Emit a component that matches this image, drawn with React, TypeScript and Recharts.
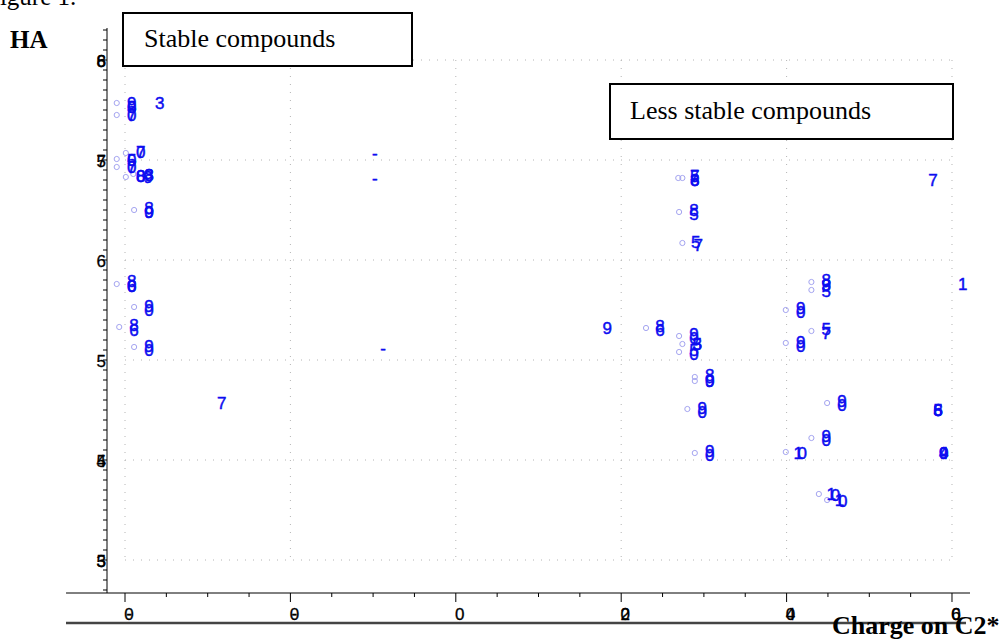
import React from 'react';
import { ScatterChart, Scatter, XAxis, YAxis, ReferenceLine } from 'recharts';

// ---- axes ----
const xDomain: [number, number] = [-0.042177, 0.062177];
const yDomain: [number, number] = [2.67, 8.32];

const xTickValues = [
  -0.04, -0.035, -0.03, -0.025, -0.02, -0.015, -0.01, -0.005, 0, 0.005, 0.01,
  0.015, 0.02, 0.025, 0.03, 0.035, 0.04, 0.045, 0.05, 0.055, 0.06,
];
const xMajorValues = [-0.04, -0.02, 0, 0.02, 0.04, 0.06];
const xMajorGlyphs = [['0', '-'], ['0', '-'], ['0'], ['2', '0'], ['4', '0'], ['6', '0']];

const yTickValues = Array.from({ length: 57 }, (_, i) => (27 + i) / 10);
const yMajorValues = [8, 7, 6, 5, 4, 3];
const yMajorGlyphs = [['8', '6'], ['7', '5'], ['6'], ['5'], ['4', '5'], ['3', '5']];

// ---- data: circles (Charge on C2*, HA) ----
const stablePoints: [number, number][] = [
  [-0.041, 7.57], [-0.041, 7.45], [-0.0399, 7.07], [-0.041, 7.01], [-0.041, 6.93],
  [-0.0399, 6.83], [-0.039, 6.86], [-0.0389, 6.5], [-0.041, 5.76], [-0.0389, 5.53],
  [-0.0407, 5.33], [-0.0389, 5.13],
];
const middlePoints: [number, number][] = [
  [0.0269, 6.82], [0.0274, 6.82], [0.027, 6.48], [0.0274, 6.17], [0.023, 5.32],
  [0.027, 5.24], [0.0274, 5.16], [0.027, 5.08], [0.0289, 4.83], [0.0289, 4.79],
  [0.028, 4.51], [0.0289, 4.07],
];
const rightPoints: [number, number][] = [
  [0.043, 5.78], [0.043, 5.7], [0.0399, 5.5], [0.043, 5.29], [0.0399, 5.17],
  [0.0449, 4.57], [0.043, 4.22], [0.0399, 4.08], [0.0439, 3.66], [0.0449, 3.6],
];

// ---- data: point labels (x, y, overlapping glyphs) ----
const stableLabels: [number, number, string][] = [
  [-0.0392, 7.57, '9'], [-0.0392, 7.53, '05'], [-0.0392, 7.45, '07'], [-0.0358, 7.57, '3'],
  [-0.0381, 7.08, '70'], [-0.0392, 7.0, '50'], [-0.0392, 6.93, '07'], [-0.0381, 6.84, '08'],
  [-0.0371, 6.85, '83'], [-0.0372, 6.83, '9'], [-0.0371, 6.52, '8'], [-0.0371, 6.48, '90'],
  [-0.0392, 5.79, '8'], [-0.0392, 5.74, '60'], [-0.0371, 5.54, '9'], [-0.0371, 5.5, '0'],
  [-0.0389, 5.35, '8'], [-0.0389, 5.3, '6'], [-0.0371, 5.14, '9'], [-0.0371, 5.1, '0'],
  [-0.0283, 4.57, '7'], [-0.0098, 7.07, '-'], [-0.0098, 6.82, '-'], [-0.0088, 5.12, '-'],
];
const middleLabels: [number, number, string][] = [
  [0.0289, 6.84, '57'], [0.0289, 6.8, '68'], [0.0288, 6.5, '8'], [0.0288, 6.46, '5'],
  [0.029, 6.18, '5'], [0.0293, 6.15, '7'], [0.0183, 5.32, '9'], [0.0247, 5.34, '8'],
  [0.0247, 5.3, '6'], [0.0288, 5.26, '9'], [0.0288, 5.22, '0'], [0.0292, 5.16, '53'],
  [0.0288, 5.1, '5'], [0.0288, 5.06, '0'], [0.0307, 4.85, '8'], [0.0307, 4.79, '90'],
  [0.0298, 4.52, '9'], [0.0298, 4.48, '0'], [0.0307, 4.09, '9'], [0.0307, 4.05, '0'],
  [0.0577, 6.8, '7'],
];
const rightLabels: [number, number, string][] = [
  [0.0448, 5.8, '8'], [0.0448, 5.75, '93'], [0.0448, 5.69, '5'], [0.0417, 5.52, '9'],
  [0.0417, 5.48, '0'], [0.0448, 5.31, '5'], [0.0448, 5.27, '7'], [0.0417, 5.18, '9'],
  [0.0417, 5.14, '0'], [0.0467, 4.59, '9'], [0.0467, 4.55, '0'], [0.0448, 4.24, '9'],
  [0.0448, 4.2, '0'], [0.0414, 4.07, '1'], [0.0419, 4.07, '0'], [0.0613, 5.76, '1'],
  [0.0583, 4.5, '865'], [0.059, 4.07, '409'], [0.0454, 3.66, '1'], [0.0459, 3.65, '0'],
  [0.0464, 3.6, '1'], [0.0468, 3.59, '0'],
];

const circleData = [...stablePoints, ...middlePoints, ...rightPoints].map(([x, y]) => ({ x, y }));
const labelData = [...stableLabels, ...middleLabels, ...rightLabels].map(([x, y, t]) => ({ x, y, t }));

const SANS = "'Liberation Sans', Arial, sans-serif";
const SERIF = "'Liberation Serif', 'Times New Roman', serif";
const near = (a: number, b: number) => Math.abs(a - b) < 1e-6;

const CircleShape = (p: any) => (
  <circle cx={p.cx} cy={p.cy} r={2.6} fill="none" stroke="#a4a4f0" strokeWidth={1} />
);

const LabelShape = (p: any) => {
  const t: string = p.payload.t;
  return (
    <g>
      {t.split('').map((ch, i) => (
        <text
          key={i}
          x={p.cx}
          y={p.cy + 6}
          textAnchor="middle"
          fontSize={17}
          fontFamily={SANS}
          fill="#0d0df0"
          stroke="#0d0df0"
          strokeWidth={0.45}
        >
          {ch}
        </text>
      ))}
    </g>
  );
};

const YTick = (props: any) => {
  const { x, y, payload } = props;
  const idx = yMajorValues.findIndex((m) => near(m, payload.value));
  return (
    <g>
      <line x1={x - 4} x2={x} y1={y} y2={y} stroke="#000" strokeWidth={1} />
      {idx >= 0 &&
        yMajorGlyphs[idx].map((g, i) => (
          <text key={i} x={x - 1} y={y + 7} textAnchor="end" fontSize={17} fontFamily={SANS} fill="#000" stroke="#000" strokeWidth={0.3}>
            {g}
          </text>
        ))}
    </g>
  );
};

const XTick = (props: any) => {
  const { x, y, payload } = props;
  const idx = xMajorValues.findIndex((m) => near(m, payload.value));
  const major = idx >= 0;
  return (
    <g>
      <line x1={x} x2={x} y1={y} y2={y + (major ? 9 : 4)} stroke="#000" strokeWidth={1} />
      {major &&
        xMajorGlyphs[idx].map((g, i) => (
          <text key={i} x={x + 4} y={y + 27 - (g === '-' ? 1 : 0)} textAnchor="middle" fontSize={17} fontFamily={SANS} fill="#000" stroke="#000" strokeWidth={0.3}>
            {g}
          </text>
        ))}
    </g>
  );
};

const gridStyle = { stroke: '#b4b4b4', strokeWidth: 1, strokeDasharray: '1 7' };

export default function App() {
  return (
    <div style={{ position: 'absolute', left: 0, top: 0, width: 1006, height: 641, background: '#fff', overflow: 'hidden' }}>
      <ScatterChart width={1006} height={641} margin={{ top: 28, right: 36, bottom: 18, left: 47 }}>
        <XAxis
          type="number"
          dataKey="x"
          domain={xDomain}
          allowDataOverflow
          ticks={xTickValues}
          interval={0}
          tick={<XTick />}
          tickLine={false}
          tickSize={0}
          tickMargin={0}
          axisLine={false}
          height={30}
        />
        <YAxis
          type="number"
          dataKey="y"
          domain={yDomain}
          allowDataOverflow
          ticks={yTickValues}
          interval={0}
          tick={<YTick />}
          tickLine={false}
          tickSize={0}
          tickMargin={0}
          axisLine={{ stroke: '#000', strokeWidth: 1 }}
          width={60}
        />
        {xMajorValues.map((v) => (
          <ReferenceLine key={'gx' + v} segment={[{ x: v, y: 8 }, { x: v, y: 3 }]} {...gridStyle} ifOverflow="visible" />
        ))}
        {yMajorValues.map((v) => (
          <ReferenceLine key={'gy' + v} segment={[{ x: -0.04, y: v }, { x: 0.06, y: v }]} {...gridStyle} ifOverflow="visible" />
        ))}
        <ReferenceLine
          segment={[{ x: -0.04713, y: 2.67 }, { x: 0.062177, y: 2.67 }]}
          stroke="#000"
          strokeWidth={1}
          ifOverflow="visible"
        />
        <Scatter data={circleData} shape={CircleShape} isAnimationActive={false} />
        <Scatter data={labelData} shape={LabelShape} isAnimationActive={false} />
      </ScatterChart>
      <svg
        width={1006}
        height={641}
        style={{ position: 'absolute', left: 0, top: 0, pointerEvents: 'none' }}
      >
        <text x={-14} y={5} fontSize={25} fontFamily={SERIF} fill="#000">Figure 1.</text>
        <text x={10} y={48} fontSize={25} fontWeight="bold" fontFamily={SERIF} fill="#000">HA</text>
        <rect x={123} y={13} width={289} height={53} fill="#fff" stroke="#000" strokeWidth={2} />
        <text x={144} y={47} fontSize={26} fontFamily={SERIF} fill="#000">Stable compounds</text>
        <rect x={610} y={84} width={343} height={55} fill="#fff" stroke="#000" strokeWidth={2} />
        <text x={630} y={119} fontSize={26} fontFamily={SERIF} fill="#000">Less stable compounds</text>
        <line x1={66} x2={966} y1={623} y2={623} stroke="#444" strokeWidth={2.5} />
        <text x={832} y={634} fontSize={26} fontWeight="bold" fontFamily={SERIF} fill="#000">Charge on C2*</text>
      </svg>
    </div>
  );
}
